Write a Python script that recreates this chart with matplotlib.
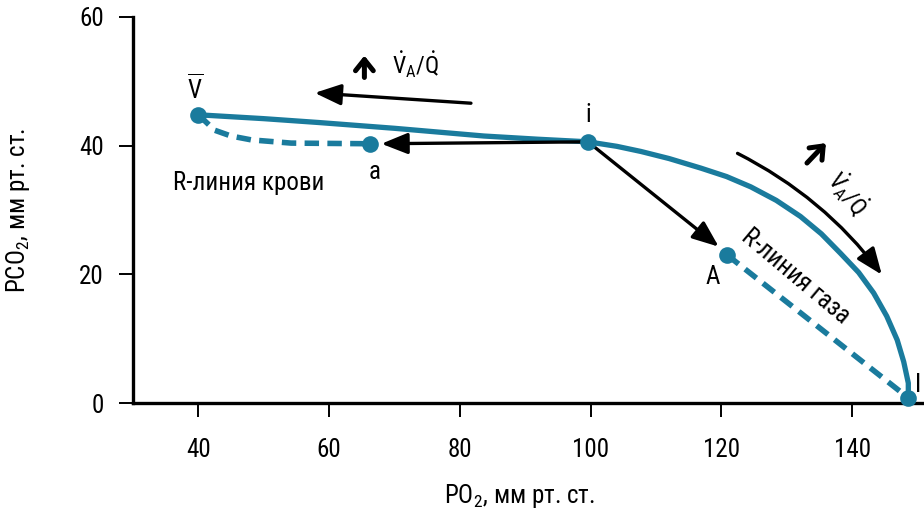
import matplotlib
matplotlib.use("Agg")
import matplotlib.pyplot as plt
from matplotlib.patches import FancyArrowPatch

plt.rcParams['font.family'] = ['Roboto Condensed', 'DejaVu Sans']
plt.rcParams['font.stretch'] = 'condensed'
plt.rcParams['mathtext.fontset'] = 'custom'
plt.rcParams['mathtext.rm'] = 'Roboto Condensed'
plt.rcParams['mathtext.it'] = 'Roboto Condensed'
plt.rcParams['mathtext.bf'] = 'Roboto Condensed'

TEAL = '#1a7b9d'

# O2-CO2 diagram, values
# ventilation-perfusion line: V-bar -> i -> I
curve_po2 = [40, 50, 58.4, 70, 83.7, 92, 99.6, 104, 107.7, 112, 116.9, 120.8,
             124.5, 128.4, 132.1, 135.3, 138.2, 141.0, 143.3, 145.3, 146.9,
             147.9, 148.6, 148.6]
curve_pco2 = [44.8, 44.2, 43.6, 42.7, 41.5, 41.0, 40.6, 39.9, 39.1, 38.0,
              36.5, 35.2, 33.6, 31.5, 29.0, 26.3, 23.3, 20.3, 17.1, 13.5,
              9.8, 6.4, 3.1, 0.8]

# blood R line (V-bar -> a) and gas R line (A -> I)
blood_po2 = [40, 42.5, 45.0, 48.1, 54.2, 66.2]
blood_pco2 = [44.8, 42.4, 41.5, 40.9, 40.4, 40.3]
gas_po2 = [120.9, 148.6]
gas_pco2 = [23.0, 0.8]

# named points
pt_po2 = [40, 66.2, 99.6, 120.9, 148.6]
pt_pco2 = [44.8, 40.3, 40.6, 23.0, 0.8]

x_ticks = [40, 60, 80, 100, 120, 140]
y_ticks = [0, 20, 40, 60]

fig = plt.figure(figsize=(9.24, 5.23), dpi=100)
ax = fig.add_axes([0.1439, 0.2294, 0.8561, 0.7381])

ax.plot(curve_po2, curve_pco2, color=TEAL, lw=3.8, solid_capstyle='round',
        solid_joinstyle='round', clip_on=False, zorder=3)
ax.plot(blood_po2, blood_pco2, color=TEAL, lw=4.0, dashes=(2.6, 1.5), zorder=3)
ax.plot(gas_po2, gas_pco2, color=TEAL, lw=4.0, dashes=(2.6, 1.5),
        clip_on=False, zorder=3)
ax.plot(pt_po2, pt_pco2, 'o', color=TEAL, ms=12, mec='none', clip_on=False,
        zorder=5)

# black arrows
arrow_kw = dict(arrowstyle='-|>,head_length=0.8,head_width=0.32', color='black',
                lw=2.4, mutation_scale=20)
ax.annotate('', xy=(68.0, 40.3), xytext=(pt_po2[2], pt_pco2[2]),
            arrowprops=dict(shrinkA=0, shrinkB=0, **arrow_kw), zorder=4)
ax.annotate('', xy=(119.6, 24.3), xytext=(pt_po2[2], pt_pco2[2]),
            arrowprops=dict(shrinkA=0, shrinkB=0, **arrow_kw), zorder=4)
ax.annotate('', xy=(57.8, 48.2), xytext=(81.7, 46.6),
            arrowprops=dict(shrinkA=0, shrinkB=0, **arrow_kw))
ax.add_patch(FancyArrowPatch((122.1, 39.0), (144.8, 19.6),
                             connectionstyle='arc3,rad=-0.12', **arrow_kw))

# short "increase" arrows
up_kw = dict(arrowstyle='->,head_length=0.4,head_width=0.32', color='black',
             lw=3.6, mutation_scale=20, shrinkA=0, shrinkB=0)
ax.annotate('', xy=(65.4, 54.0), xytext=(65.4, 50.6), arrowprops=up_kw)
ax.annotate('', xy=(136.0, 40.4), xytext=(133.1, 37.3), arrowprops=up_kw)

ratio = r'$\dot{\mathrm{V}}_{\mathrm{A}}/\dot{\mathrm{Q}}$'
ax.text(73.3, 52.6, ratio, fontsize=17, ha='center', va='center')
ax.text(139.3, 32.6, ratio, fontsize=17, ha='center', va='center',
        rotation=-52, rotation_mode='anchor')

# point labels
ax.text(39.5, 48.9, r'$\overline{\mathrm{V}}$', fontsize=18, ha='center', va='center')
ax.text(66.9, 35.9, 'a', fontsize=18, ha='center', va='center')
ax.text(99.7, 44.8, 'i', fontsize=18, ha='center', va='center')
ax.text(118.7, 19.6, 'A', fontsize=18, ha='center', va='center')
ax.text(149.6, 2.8, 'I', fontsize=18, ha='left', va='center', clip_on=False)

ax.text(47.7, 34.2, 'R-линия крови', fontsize=18, ha='center', va='center')
ax.text(131.4, 19.6, 'R-линия газа', fontsize=18, ha='center', va='center',
        rotation=-40, rotation_mode='anchor')

ax.set_xlim(30, 151)
ax.set_ylim(0, 60)
ax.set_xticks(x_ticks)
ax.set_yticks(y_ticks)
for side in ['top', 'right']:
    ax.spines[side].set_visible(False)
for side in ['left', 'bottom']:
    ax.spines[side].set_linewidth(2.4)
ax.tick_params(axis='both', length=10, width=1.4, labelsize=18)
ax.tick_params(axis='x', pad=15)
ax.tick_params(axis='y', pad=11)

ax.set_xlabel('PO$_2$, мм рт. ст.', fontsize=18)
ax.set_ylabel('PCO$_2$, мм рт. ст.', fontsize=18)
ax.xaxis.set_label_coords(0.489, -0.205)
ax.xaxis.label.set_va('top')
ax.yaxis.set_label_coords(-0.128, 0.5)

fig.savefig('out.png', dpi=100)
